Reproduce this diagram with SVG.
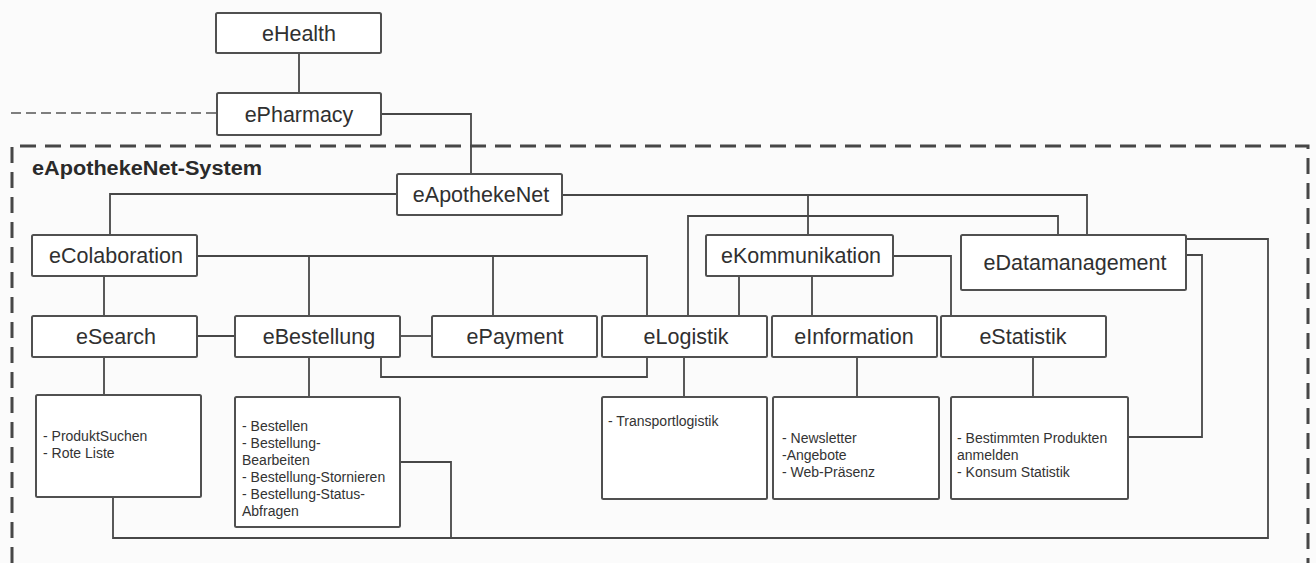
<svg xmlns="http://www.w3.org/2000/svg" width="1316" height="563" viewBox="0 0 1316 563">
  <style>
    .bg { fill: #fbfbfb; }
    .box { fill: #ffffff; stroke: #505050; stroke-width: 2; }
    .label { font-family: "Liberation Sans", Arial, sans-serif; font-size: 21.5px; fill: #303030; text-anchor: middle; }
    .note { font-family: "Liberation Sans", Arial, sans-serif; font-size: 14px; fill: #333333; }
    .title { font-family: "Liberation Sans", Arial, sans-serif; font-size: 20px; font-weight: bold; fill: #2a2a2a; }
    .wire { fill: none; stroke: #474747; stroke-width: 1.8; }
    .boundary { fill: none; stroke: #474747; stroke-width: 3; stroke-dasharray: 16 9; }
    .outside { fill: none; stroke: #555555; stroke-width: 1.6; stroke-dasharray: 10 5; }
  </style>

  <rect class="bg" x="0" y="0" width="1316" height="563"/>

  <!-- system boundary -->
  <g id="system-boundary">
    <path class="boundary" d="M12,563 V146 H1308 V563"/>
    <text class="title" x="32" y="175" textLength="230" lengthAdjust="spacingAndGlyphs">eApothekeNet-System</text>
  </g>

  <!-- connectors -->
  <g id="connectors">
    <path class="outside" d="M11,113 H217"/>
    <path class="wire" d="M299,53 V93"/>
    <path class="wire" d="M381,114 H471 V174"/>
    <path class="wire" d="M397,194 H110 V235"/>
    <path class="wire" d="M562,195 H1087 V235"/>
    <path class="wire" d="M808,195 V235"/>
    <path class="wire" d="M688,316 V216 H1058 V235"/>
    <path class="wire" d="M197,256 H647 V316"/>
    <path class="wire" d="M309,256 V316"/>
    <path class="wire" d="M493,256 V316"/>
    <path class="wire" d="M104,276 V316"/>
    <path class="wire" d="M893,256 H951 V316"/>
    <path class="wire" d="M739,276 V316"/>
    <path class="wire" d="M812,276 V316"/>
    <path class="wire" d="M197,336 H235"/>
    <path class="wire" d="M400,336 H432"/>
    <path class="wire" d="M381,357 V377 H647 V357"/>
    <path class="wire" d="M104,357 V395"/>
    <path class="wire" d="M309,357 V397"/>
    <path class="wire" d="M684,357 V397"/>
    <path class="wire" d="M857,357 V397"/>
    <path class="wire" d="M1033,357 V397"/>
    <path class="wire" d="M1186,239 H1268 V538 H113 V497"/>
    <path class="wire" d="M400,462 H451 V538"/>
    <path class="wire" d="M1186,255 H1202 V437 H1128"/>
  </g>

  <g id="eHealth">
    <rect class="box" x="216" y="13" width="165" height="40" rx="1.5"/>
    <text class="label" x="299" y="40.5">eHealth</text>
  </g>
  <g id="ePharmacy">
    <rect class="box" x="217" y="93" width="164" height="42" rx="1.5"/>
    <text class="label" x="299" y="121.5">ePharmacy</text>
  </g>
  <g id="eApothekeNet">
    <rect class="box" x="397" y="174" width="165" height="41" rx="1.5"/>
    <text class="label" x="481" y="202">eApothekeNet</text>
  </g>
  <g id="eColaboration">
    <rect class="box" x="32" y="235" width="165" height="41" rx="1.5"/>
    <text class="label" x="116" y="263">eColaboration</text>
  </g>
  <g id="eKommunikation">
    <rect class="box" x="706" y="235" width="187" height="41" rx="1.5"/>
    <text class="label" x="801" y="263">eKommunikation</text>
  </g>
  <g id="eDatamanagement">
    <rect class="box" x="961" y="235" width="225" height="55" rx="1.5"/>
    <text class="label" x="1075" y="270">eDatamanagement</text>
  </g>
  <g id="eSearch">
    <rect class="box" x="32" y="316" width="165" height="41" rx="1.5"/>
    <text class="label" x="116" y="344">eSearch</text>
  </g>
  <g id="eBestellung">
    <rect class="box" x="235" y="316" width="165" height="41" rx="1.5"/>
    <text class="label" x="319" y="344">eBestellung</text>
  </g>
  <g id="ePayment">
    <rect class="box" x="432" y="316" width="165" height="41" rx="1.5"/>
    <text class="label" x="515" y="344">ePayment</text>
  </g>
  <g id="eLogistik">
    <rect class="box" x="602" y="316" width="165" height="41" rx="1.5"/>
    <text class="label" x="686" y="344">eLogistik</text>
  </g>
  <g id="eInformation">
    <rect class="box" x="772" y="316" width="165" height="41" rx="1.5"/>
    <text class="label" x="854" y="344">eInformation</text>
  </g>
  <g id="eStatistik">
    <rect class="box" x="941" y="316" width="165" height="41" rx="1.5"/>
    <text class="label" x="1023" y="344">eStatistik</text>
  </g>

  <!-- function lists -->
  <g id="eSearch-functions">
    <rect class="box" x="36" y="395" width="165" height="102" rx="1.5"/>
    <text class="note" x="43" y="441">- ProduktSuchen</text>
    <text class="note" x="43" y="458">- Rote Liste</text>
  </g>
  <g id="eBestellung-functions">
    <rect class="box" x="235" y="397" width="165" height="130" rx="1.5"/>
    <text class="note" x="242" y="431">- Bestellen</text>
    <text class="note" x="242" y="448">- Bestellung-</text>
    <text class="note" x="242" y="465">Bearbeiten</text>
    <text class="note" x="242" y="482">- Bestellung-Stornieren</text>
    <text class="note" x="242" y="499">- Bestellung-Status-</text>
    <text class="note" x="242" y="516">Abfragen</text>
  </g>
  <g id="eLogistik-functions">
    <rect class="box" x="602" y="397" width="165" height="102" rx="1.5"/>
    <text class="note" x="608" y="426">- Transportlogistik</text>
  </g>
  <g id="eInformation-functions">
    <rect class="box" x="773" y="397" width="166" height="102" rx="1.5"/>
    <text class="note" x="782" y="443">- Newsletter</text>
    <text class="note" x="782" y="460">-Angebote</text>
    <text class="note" x="782" y="477">- Web-Präsenz</text>
  </g>
  <g id="eStatistik-functions">
    <rect class="box" x="951" y="397" width="177" height="102" rx="1.5"/>
    <text class="note" x="957" y="443">- Bestimmten Produkten</text>
    <text class="note" x="957" y="460">anmelden</text>
    <text class="note" x="957" y="477">- Konsum Statistik</text>
  </g>
</svg>
